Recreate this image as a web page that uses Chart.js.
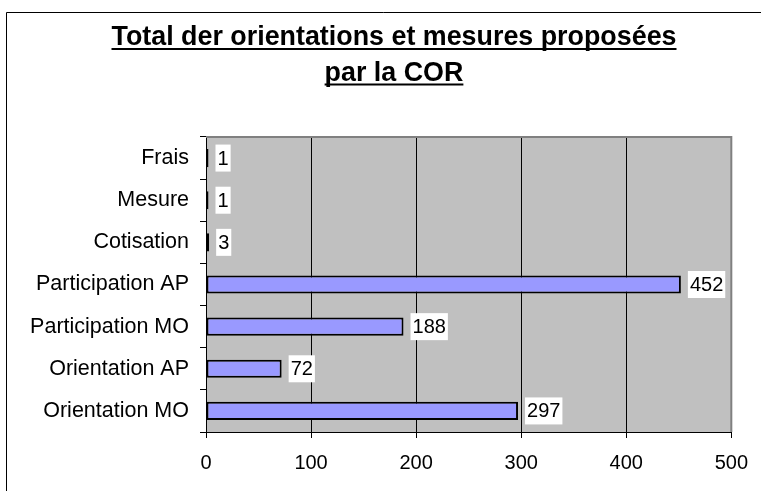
<!DOCTYPE html>
<html>
<head>
<meta charset="utf-8">
<script src="https://cdn.jsdelivr.net/npm/chart.js@4.4.0/dist/chart.umd.min.js"></script>
<style>
  body { margin: 0; background: #ffffff; }
  #wrap { width: 761px; height: 491px; }
</style>
</head>
<body>
<div id="wrap"><canvas id="myChart" width="761" height="491"></canvas></div>
<script>
const titleLines = ['Total der orientations et mesures proposées', 'par la COR'];
const categories = ['Frais', 'Mesure', 'Cotisation', 'Participation AP', 'Participation MO', 'Orientation AP', 'Orientation MO'];
const counts = [1, 1, 3, 452, 188, 72, 297];
const xTicks = [0, 100, 200, 300, 400, 500];

const canvas = document.getElementById('myChart');
const ctx = canvas.getContext('2d');

Chart.defaults.font.family = '"Liberation Sans", Arial, sans-serif';
Chart.defaults.font.size = 20;
Chart.defaults.color = '#000000';

// grey plot area + outer frame of the chart
const frame = {
  id: 'frame',
  beforeDraw(chart) {
    const c = chart.ctx;
    const a = chart.chartArea;
    c.save();
    c.fillStyle = '#ffffff';
    c.fillRect(0, 0, chart.width, chart.height);
    c.strokeStyle = '#000000';
    c.lineWidth = 1;
    c.beginPath();
    c.moveTo(6.5, chart.height);
    c.lineTo(6.5, 12.5);
    c.lineTo(chart.width, 12.5);
    c.stroke();
    c.fillStyle = '#C0C0C0';
    c.fillRect(a.left, a.top, a.right - a.left, a.bottom - a.top);
    c.restore();
  },
  afterDraw(chart) {
    const c = chart.ctx;
    const a = chart.chartArea;
    c.save();
    c.strokeStyle = '#808080';
    c.lineWidth = 2;
    c.beginPath();
    c.moveTo(a.left, a.top);
    c.lineTo(a.right, a.top);
    c.lineTo(a.right, a.bottom);
    c.stroke();
    c.restore();
  }
};

// bold underlined title, squeezed like Arial Narrow
const underlinedTitle = {
  id: 'underlinedTitle',
  afterDraw(chart) {
    const c = chart.ctx;
    c.save();
    c.font = 'bold 27px "Liberation Sans Narrow", monospace';
    const narrowW = c.measureText(titleLines[0]).width;
    c.font = 'bold 27px monospace';
    const monoW = c.measureText(titleLines[0]).width;
    if (Math.abs(narrowW - monoW) > 1) {
      c.font = 'bold 27px "Liberation Sans Narrow"';
    } else {
      c.font = 'bold 27px "Liberation Sans", Arial, sans-serif';
    }
    // first line is about 565px wide in the original
    const sx = 565 / c.measureText(titleLines[0]).width;
    const cx = 394;
    const baselines = [45, 80.5];
    c.fillStyle = '#000000';
    c.textBaseline = 'alphabetic';
    titleLines.forEach((line, i) => {
      const w = c.measureText(line).width * sx;
      const left = cx - w / 2;
      c.save();
      c.translate(left, baselines[i]);
      c.scale(sx, 1);
      c.fillText(line, 0, 0);
      c.restore();
      c.fillRect(left, baselines[i] + 3, w, 2);
    });
    c.restore();
  }
};

// value labels in white boxes at the end of each bar
const valueBoxes = {
  id: 'valueBoxes',
  afterDatasetsDraw(chart) {
    const c = chart.ctx;
    const meta = chart.getDatasetMeta(0);
    c.save();
    c.font = '20px "Liberation Sans", Arial, sans-serif';
    c.textBaseline = 'middle';
    meta.data.forEach((bar, i) => {
      const text = String(chart.data.datasets[0].data[i]);
      const w = c.measureText(text).width;
      const left = bar.x + 7;
      c.fillStyle = '#ffffff';
      c.fillRect(left, bar.y - 13.5, w + 4, 27);
      c.fillStyle = '#000000';
      c.fillText(text, left + 2, bar.y + 1);
    });
    c.restore();
  }
};

const chart = new Chart(ctx, {
  type: 'bar',
  data: {
    labels: categories,
    datasets: [
      {
        label: 'Total',
        data: counts,
        backgroundColor: '#9999FF',
        borderColor: '#000000',
        borderWidth: 2,
        borderSkipped: false,
        minBarLength: 2.5,
        barPercentage: 0.43,
        categoryPercentage: 1,
      },
    ],
  },
  options: {
    indexAxis: 'y',
    responsive: false,
    devicePixelRatio: 1,
    animation: false,
    layout: {
      padding: { top: 137, right: 29, left: 0, bottom: 0 },
    },
    scales: {
      x: {
        min: 0,
        max: 500,
        afterBuildTicks: (scale) => {
          scale.ticks = xTicks.map(v => ({ value: v }));
        },
        afterFit: (scale) => {
          scale.height = 59;
        },
        grid: {
          color: (context) => (context.tick && (context.tick.value === 0 || context.tick.value === 500)) ? 'rgba(0,0,0,0)' : '#000000',
          tickColor: '#000000',
          tickLength: 6,
          lineWidth: 1,
        },
        border: { color: '#000000', width: 1 },
        ticks: {
          color: '#000000',
          padding: 13,
          font: { size: 20 },
        },
      },
      y: {
        afterFit: (scale) => {
          scale.width = 206;
        },
        grid: {
          drawOnChartArea: false,
          color: '#000000',
          tickLength: 6,
          offset: true,
        },
        border: { color: '#000000', width: 1 },
        ticks: {
          color: '#000000',
          padding: 11,
          autoSkip: false,
          font: { size: 21.5 },
        },
      },
    },
    plugins: {
      legend: { display: false },
      title: { display: false },
      tooltip: { enabled: false },
    },
  },
  plugins: [frame, underlinedTitle, valueBoxes],
});
</script>
</body>
</html>
